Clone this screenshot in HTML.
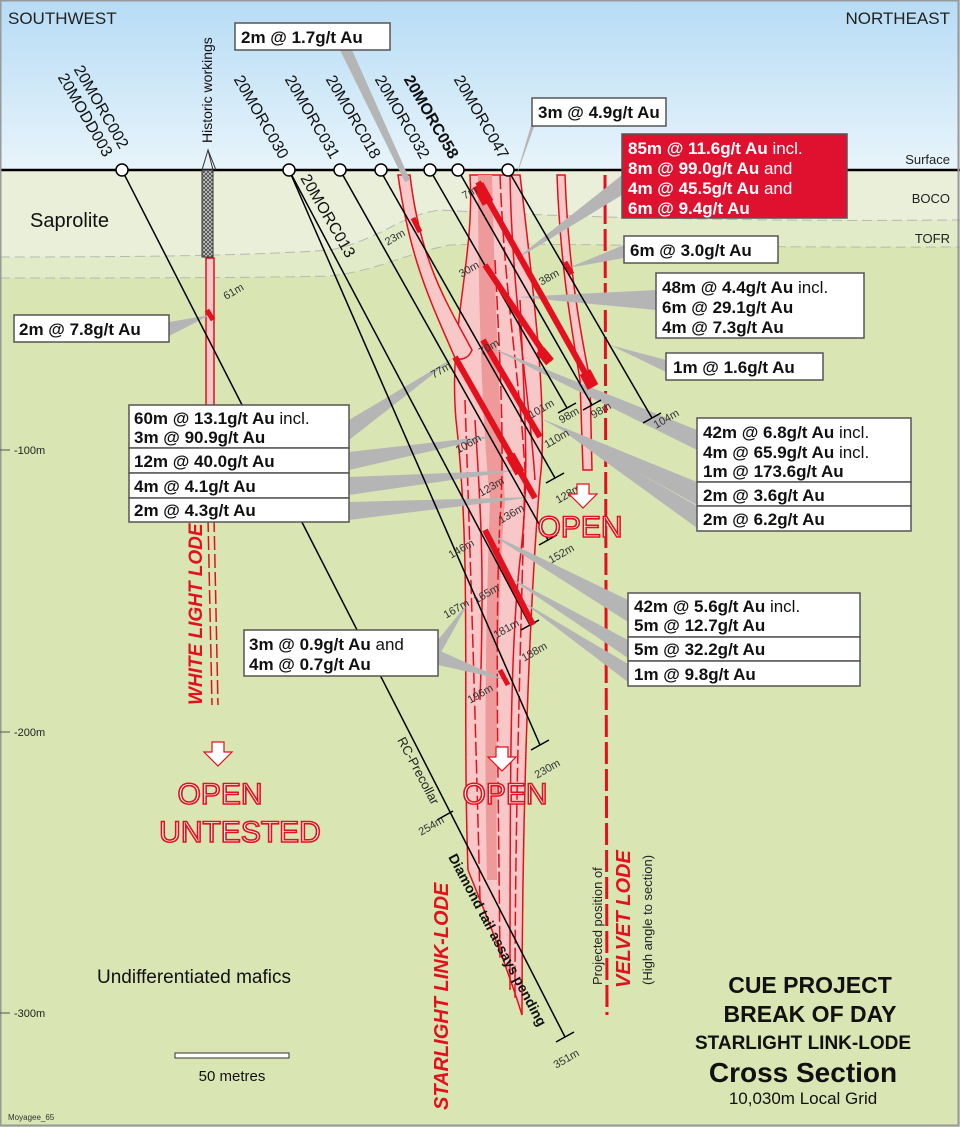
<!DOCTYPE html>
<html><head><meta charset="utf-8"><style>
html,body{margin:0;padding:0;background:#fff}
svg{display:block;font-family:"Liberation Sans",sans-serif}
.b{font-weight:bold;font-size:17px;fill:#111}
.n{font-weight:normal}
.hn{font-size:16px;fill:#111}
.d{font-size:11px;fill:#333}
.open{font-size:30px;fill:#fff;stroke:#e3101d;stroke-width:1.6;font-weight:normal}
</style></head><body>
<svg width="960" height="1127" viewBox="0 0 960 1127">
<defs>
<linearGradient id="sky" x1="0" y1="0" x2="0" y2="1"><stop offset="0" stop-color="#b6dcf5"/><stop offset="1" stop-color="#e8f4fb"/></linearGradient>
<pattern id="hatch" width="4" height="4" patternUnits="userSpaceOnUse"><rect width="4" height="4" fill="#ccc"/><path d="M0,0 L4,4 M4,0 L0,4" stroke="#444" stroke-width="0.8"/></pattern>
</defs>
<rect x="0" y="0" width="960" height="1127" fill="#d9e5b3"/>
<rect x="0" y="0" width="960" height="170" fill="url(#sky)"/>
<path d="M0,170 H960 V220 C700,222 520,215 440,210 C400,215 380,240 330,250 C250,256 120,257 0,257Z" fill="#eaefd9"/>
<path d="M0,257 C120,257 250,256 330,250 C380,240 400,215 440,210 C520,215 700,222 960,220 V247 C700,248 520,242 450,245 C400,255 380,270 330,276 C250,278 120,278 0,278Z" fill="#e2ebc8"/>
<path d="M0,257 C120,257 250,256 330,250 C380,240 400,215 440,210 C520,215 700,222 960,220" fill="none" stroke="#b8b8b0" stroke-dasharray="10,5"/>
<path d="M0,278 C120,278 250,278 330,276 C380,270 400,255 450,245 C520,242 700,248 960,247" fill="none" stroke="#b8b8b0" stroke-dasharray="10,5"/>
<line x1="0" y1="170" x2="960" y2="170" stroke="#000" stroke-width="2.5"/>
<rect x="0.5" y="0.5" width="958" height="1125" fill="none" stroke="#999" stroke-width="2"/>

<!-- Starlight lode envelope -->
<path d="M470,175 L520,175 C535,300 548,420 540,480 C530,600 522,800 522,1015 C505,960 480,900 468,870 C462,700 472,560 456,420 C448,330 475,260 470,175Z" fill="#f8c8c8" stroke="#e3101d" stroke-width="1.5"/>
<path d="M478,175 L492,175 C495,300 500,420 505,500 C500,560 495,700 497,880 L487,880 C483,700 488,560 490,500 C482,420 478,300 478,175Z" fill="#ee9a9a"/>
<g fill="none" stroke="#e3101d" stroke-width="1.5">
<path d="M500,175 C505,300 520,380 525,470 C522,600 515,800 515,1000" stroke-dasharray="14,4"/>
<path d="M510,175 C512,300 530,400 535,480"/>
<path d="M465,400 C470,550 475,700 480,900" stroke-dasharray="14,4"/>
<path d="M495,260 C500,360 505,450 500,520 C495,620 498,760 500,960" stroke-dasharray="14,4"/>
<path d="M520,300 C525,420 530,480 520,560 C510,650 510,780 510,990"/>
<path d="M475,420 C480,500 485,560 480,700" />
</g>
<path d="M398,175 L410,175 C420,260 445,300 472,350 C468,360 460,360 455,358 C430,300 410,260 398,175Z" fill="#f8c8c8" stroke="#e3101d" stroke-width="1.5"/>
<path d="M557,175 L565,175 C568,260 578,320 590,380 L592,470 L583,470 L580,380 C570,320 560,260 557,175Z" fill="#f8c8c8" stroke="#e3101d" stroke-width="1.5"/>
<line x1="605" y1="175" x2="607" y2="1015" stroke="#e3101d" stroke-width="3" stroke-dasharray="22,5"/>
<!-- White light lode -->
<rect x="206" y="258" width="8" height="260" fill="#f8c8c8" stroke="#e3101d" stroke-width="1.5"/>
<path d="M208,518 L212,705 M214,518 L218,705" stroke="#e3101d" stroke-width="1.5" stroke-dasharray="14,4"/>
<rect x="202" y="170" width="11" height="87" fill="url(#hatch)" stroke="#333"/>
<path d="M202,170 L208,150 L213,170 M208,150 L216,170" stroke="#333" fill="none"/>

<!-- leaders -->
<g fill="#b5b5b5">
<polygon points="340,50 352,50 410,180 405,182"/>
<polygon points="535,112 535,124 515,180"/>
<polygon points="622,175 622,195 512,262"/>
<polygon points="624,245 624,258 568,268"/>
<polygon points="656,290 656,310 518,297"/>
<polygon points="666,360 666,372 610,345"/>
<polygon points="697,430 697,450 485,345"/>
<polygon points="697,482 697,505 540,418"/>
<polygon points="697,506 697,528 555,425"/>
<polygon points="349,420 349,440 455,357"/>
<polygon points="349,452 349,470 500,435"/>
<polygon points="349,477 349,495 520,470"/>
<polygon points="349,502 349,520 535,497"/>
<polygon points="169,322 169,336 210,315"/>
<polygon points="628,600 628,622 487,532"/>
<polygon points="628,640 628,658 505,575"/>
<polygon points="628,664 628,682 520,600"/>
<polygon points="438,640 438,658 470,600"/>
<polygon points="438,650 438,665 505,680"/>
</g>

<g stroke="#000" stroke-width="1.5" fill="none">
<line x1="122" y1="170" x2="565" y2="1037"/>
<line x1="289" y1="170" x2="540" y2="745"/>
<line x1="289" y1="170" x2="530" y2="625"/>
<line x1="340" y1="170" x2="548" y2="540"/>
<line x1="380" y1="170" x2="555" y2="478"/>
<line x1="430" y1="170" x2="567" y2="408"/>
<line x1="458" y1="170" x2="592" y2="405"/>
<line x1="508" y1="170" x2="652" y2="418"/>
<path d="M556,1042 L574,1032 M531,750 L549,740 M521,630 L539,620 M539,545 L557,535 M546,483 L564,473 M558,413 L576,403 M583,410 L601,400 M643,423 L661,413 M437,820 L453,811"/>
</g>
<g stroke="#e3101d" stroke-linecap="butt">
<line x1="478" y1="182" x2="593" y2="387" stroke-width="6"/>
<line x1="485" y1="265" x2="550" y2="362" stroke-width="6"/>
<line x1="483" y1="340" x2="540" y2="437" stroke-width="6"/>
<line x1="455" y1="357" x2="535" y2="498" stroke-width="6"/>
<line x1="485" y1="530" x2="533" y2="625" stroke-width="6"/>
<line x1="500" y1="670" x2="508" y2="685" stroke-width="5"/>
<line x1="413" y1="218" x2="420" y2="232" stroke-width="5"/>
<line x1="565" y1="262" x2="572" y2="274" stroke-width="5"/>
<line x1="207" y1="310" x2="213" y2="320" stroke-width="5"/>
<line x1="478" y1="185" x2="488" y2="203" stroke-width="12"/>
<line x1="585" y1="372" x2="593" y2="387" stroke-width="12"/>
<line x1="510" y1="455" x2="520" y2="473" stroke-width="10"/>
<line x1="540" y1="350" x2="550" y2="362" stroke-width="10"/>
</g>
<g fill="#fff" stroke="#000" stroke-width="1.5">
<circle cx="122" cy="170" r="6"/><circle cx="289" cy="170" r="6"/><circle cx="340" cy="170" r="6"/><circle cx="381" cy="170" r="6"/><circle cx="430" cy="170" r="6"/><circle cx="458" cy="170" r="6"/><circle cx="508" cy="170" r="6"/>
</g>
<g class="hn" text-anchor="end">
<text transform="translate(120,150) rotate(60)">20MORC002</text>
<text transform="translate(104,158) rotate(60)">20MODD003</text>
<text transform="translate(280,160) rotate(60)">20MORC030</text>
<text transform="translate(331,160) rotate(60)">20MORC031</text>
<text transform="translate(372,160) rotate(60)">20MORC018</text>
<text transform="translate(421,160) rotate(60)">20MORC032</text>
<text transform="translate(450,160) rotate(60)" font-weight="bold">20MORC058</text>
<text transform="translate(500,160) rotate(60)">20MORC047</text>
<text transform="translate(300,178) rotate(60)" text-anchor="start">20MORC013</text>
<text transform="translate(212,143) rotate(-90)" text-anchor="start" font-size="14">Historic workings</text>
</g>
<g class="d" text-anchor="end">
<text transform="translate(406,235) rotate(-30)">23m</text>
<text transform="translate(478,192) rotate(-30)">7m</text>
<text transform="translate(480,267) rotate(-30)">30m</text>
<text transform="translate(560,275) rotate(-30)">38m</text>
<text transform="translate(226,300) rotate(-30)" text-anchor="start">61m</text>
<text transform="translate(500,345) rotate(-30)">70m</text>
<text transform="translate(452,368) rotate(-30)">77m</text>
<text transform="translate(555,405) rotate(-30)">101m</text>
<text transform="translate(580,413) rotate(-30)">98m</text>
<text transform="translate(612,408) rotate(-30)">98m</text>
<text transform="translate(680,415) rotate(-30)">104m</text>
<text transform="translate(570,435) rotate(-30)">110m</text>
<text transform="translate(482,440) rotate(-30)">106m</text>
<text transform="translate(505,483) rotate(-30)">123m</text>
<text transform="translate(582,490) rotate(-30)">128m</text>
<text transform="translate(525,510) rotate(-30)">136m</text>
<text transform="translate(475,545) rotate(-30)">146m</text>
<text transform="translate(575,550) rotate(-30)">152m</text>
<text transform="translate(500,590) rotate(-30)">165m</text>
<text transform="translate(470,605) rotate(-30)">167m</text>
<text transform="translate(520,625) rotate(-30)">181m</text>
<text transform="translate(548,648) rotate(-30)">188m</text>
<text transform="translate(494,690) rotate(-30)">196m</text>
<text transform="translate(561,765) rotate(-30)">230m</text>
<text transform="translate(445,822) rotate(-30)">254m</text>
<text transform="translate(580,1055) rotate(-30)">351m</text>
</g>
<text transform="translate(397,740) rotate(62)" font-size="13" fill="#222">RC-Precollar</text>
<text transform="translate(448,857) rotate(62)" font-size="14" font-weight="bold" fill="#111">Diamond tail assays pending</text>

<g fill="#fff" stroke="#e3101d" stroke-width="1.2">
<path d="M212,742 h12 v10 h8 l-14,14 l-14,-14 h8z"/>
<path d="M496,747 h12 v10 h8 l-14,14 l-14,-14 h8z"/>
<path d="M577,484 h12 v10 h8 l-14,14 l-14,-14 h8z"/>
</g>
<g class="open" text-anchor="middle">
<text x="580" y="537">OPEN</text>
<text x="505" y="804">OPEN</text>
<text x="220" y="804">OPEN</text>
<text x="240" y="842">UNTESTED</text>
</g>
<text transform="translate(202,705) rotate(-90)" font-size="19" font-style="italic" font-weight="bold" fill="#e3101d">WHITE LIGHT LODE</text>
<text transform="translate(448,1110) rotate(-90)" font-size="20" font-style="italic" font-weight="bold" fill="#e3101d">STARLIGHT LINK-LODE</text>
<text transform="translate(602,985) rotate(-90)" font-size="13" fill="#222">Projected position of</text>
<text transform="translate(630,988) rotate(-90)" font-size="20" font-style="italic" font-weight="bold" fill="#e3101d">VELVET LODE</text>
<text transform="translate(652,985) rotate(-90)" font-size="13" fill="#222">(High angle to section)</text>

<g stroke="#555" stroke-width="1.5" fill="#fff">
<rect x="235" y="23" width="155" height="27"/>
<rect x="532" y="98" width="134" height="28"/>
<rect x="622" y="134" width="225" height="84" fill="#e0102f"/>
<rect x="624" y="236" width="154" height="27"/>
<rect x="656" y="273" width="208" height="65"/>
<rect x="666" y="353" width="157" height="27"/>
<rect x="697" y="418" width="214" height="64"/>
<rect x="697" y="482" width="214" height="24"/>
<rect x="697" y="506" width="214" height="25"/>
<rect x="129" y="405" width="220" height="43"/>
<rect x="129" y="448" width="220" height="25"/>
<rect x="129" y="473" width="220" height="25"/>
<rect x="129" y="498" width="220" height="24"/>
<rect x="14" y="315" width="155" height="27"/>
<rect x="628" y="593" width="232" height="44"/>
<rect x="628" y="637" width="232" height="24"/>
<rect x="628" y="661" width="232" height="25"/>
<rect x="244" y="630" width="194" height="46"/>
</g>
<g class="b">
<text x="241" y="43">2m @ 1.7g/t Au</text>
<text x="538" y="118">3m @ 4.9g/t Au</text>
<g style="fill:#fff"><text x="628" y="154" style="fill:#fff">85m @ 11.6g/t Au <tspan class="n">incl.</tspan></text>
<text x="628" y="174" style="fill:#fff">8m @ 99.0g/t Au <tspan class="n">and</tspan></text>
<text x="628" y="194" style="fill:#fff">4m @ 45.5g/t Au <tspan class="n">and</tspan></text>
<text x="628" y="214" style="fill:#fff">6m @ 9.4g/t Au</text></g>
<text x="630" y="256">6m @ 3.0g/t Au</text>
<text x="662" y="293">48m @ 4.4g/t Au <tspan class="n">incl.</tspan></text>
<text x="662" y="313">6m @ 29.1g/t Au</text>
<text x="662" y="333">4m @ 7.3g/t Au</text>
<text x="673" y="373">1m @ 1.6g/t Au</text>
<text x="703" y="438">42m @ 6.8g/t Au <tspan class="n">incl.</tspan></text>
<text x="703" y="458">4m @ 65.9g/t Au <tspan class="n">incl.</tspan></text>
<text x="703" y="477">1m @ 173.6g/t Au</text>
<text x="703" y="501">2m @ 3.6g/t Au</text>
<text x="703" y="525">2m @ 6.2g/t Au</text>
<text x="134" y="424">60m @ 13.1g/t Au <tspan class="n">incl.</tspan></text>
<text x="134" y="443">3m @ 90.9g/t Au</text>
<text x="134" y="467">12m @ 40.0g/t Au</text>
<text x="134" y="492">4m @ 4.1g/t Au</text>
<text x="134" y="516">2m @ 4.3g/t Au</text>
<text x="19" y="335">2m @ 7.8g/t Au</text>
<text x="634" y="612">42m @ 5.6g/t Au <tspan class="n">incl.</tspan></text>
<text x="634" y="631">5m @ 12.7g/t Au</text>
<text x="634" y="655">5m @ 32.2g/t Au</text>
<text x="634" y="680">1m @ 9.8g/t Au</text>
<text x="249" y="650">3m @ 0.9g/t Au <tspan class="n">and</tspan></text>
<text x="249" y="670">4m @ 0.7g/t Au</text>
</g>

<text x="8" y="24" font-size="17" fill="#222">SOUTHWEST</text>
<text x="950" y="24" font-size="17" fill="#222" text-anchor="end">NORTHEAST</text>
<text x="950" y="164" font-size="13" fill="#222" text-anchor="end">Surface</text>
<text x="950" y="203" font-size="13" fill="#222" text-anchor="end">BOCO</text>
<text x="950" y="243" font-size="13" fill="#222" text-anchor="end">TOFR</text>
<text x="30" y="227" font-size="20" fill="#111">Saprolite</text>
<text x="97" y="983" font-size="19" fill="#111">Undifferentiated mafics</text>
<g font-size="11" fill="#222"><text x="14" y="454">-100m</text><text x="14" y="736">-200m</text><text x="14" y="1017">-300m</text></g>
<path d="M0,450 H10 M0,732 H10 M0,1013 H10" stroke="#555"/>
<rect x="175" y="1053" width="114" height="5" fill="#fff" stroke="#333"/>
<text x="232" y="1081" font-size="15" fill="#111" text-anchor="middle">50 metres</text>
<text x="8" y="1120" font-size="8" fill="#333">Moyagee_65</text>
<g text-anchor="middle" fill="#111" font-weight="bold">
<text x="810" y="993" font-size="23">CUE PROJECT</text>
<text x="810" y="1022" font-size="23">BREAK OF DAY</text>
<text x="803" y="1049" font-size="19">STARLIGHT LINK-LODE</text>
<text x="803" y="1082" font-size="28">Cross Section</text>
<text x="803" y="1104" font-size="17" font-weight="normal">10,030m Local Grid</text>
</g>
</svg>
</body></html>
